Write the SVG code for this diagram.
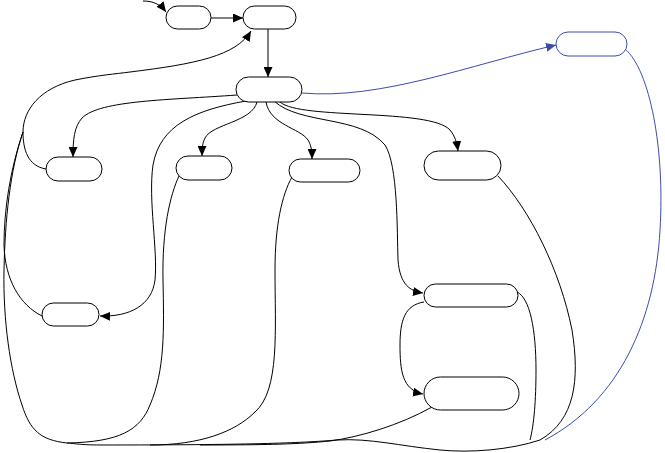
<svg xmlns="http://www.w3.org/2000/svg" width="665" height="453" viewBox="0 0 665 453">
<style>
.n{fill:#fff;stroke:#000;stroke-width:1}
.nb{fill:#fff;stroke:#3b4cad;stroke-width:1}
.e{fill:none;stroke:#000;stroke-width:1}
.eb{fill:none;stroke:#3b4cad;stroke-width:1}
</style>
<defs>
<marker id="ah" markerUnits="userSpaceOnUse" markerWidth="11" markerHeight="9" refX="10" refY="4.5" orient="auto"><path d="M0,0 L10,4.5 L0,9 z" fill="#000"/></marker>
<marker id="ahb" markerUnits="userSpaceOnUse" markerWidth="11" markerHeight="9" refX="10" refY="4.5" orient="auto"><path d="M0,0 L10,4.5 L0,9 z" fill="#3b4cad"/></marker>
</defs>
<g id="connectors">
<path class="e" d="M143,1 C153,1 160,4 166,12" marker-end="url(#ah)"/>
<path class="e" d="M211,18 L243,18" marker-end="url(#ah)"/>
<path class="e" d="M268,29 L268,77" marker-end="url(#ah)"/>
<path class="eb" d="M302,93 C380,100 470,65 556,45" marker-end="url(#ahb)"/>
<path class="e" d="M237,95 C170,100 100,100 82,118 C74,127 73,140 73,157" marker-end="url(#ah)"/>
<path class="e" d="M246,101 C195,110 160,125 153,165 C148,200 158,250 155,280 C152,305 130,317 100,316" marker-end="url(#ah)"/>
<path class="e" d="M257,102 C252,122 212,124 205,138 C202,144 202,150 202,156" marker-end="url(#ah)"/>
<path class="e" d="M266,102 C270,125 300,128 308,140 C311,145 312,150 312,159" marker-end="url(#ah)"/>
<path class="e" d="M280,102 C300,120 430,108 450,130 C455,136 457,143 458,151" marker-end="url(#ah)"/>
<path class="e" d="M274,101 C300,125 360,115 385,145 C398,165 397,230 398,260 C400,285 410,291 423,293" marker-end="url(#ah)"/>
<path class="e" d="M424,302 C405,305 400,320 400,345 C400,370 402,390 423,394" marker-end="url(#ah)"/>
<path class="e" d="M46,169 C28,166 23,150 23,132 C23,110 40,88 75,80 C100,75 115,74 130,72 C195,64 236,56 251,31" marker-end="url(#ah)"/>
<path class="e" d="M42,316 C20,305 5,280 4,245 C4,210 10,170 23,132"/>
<path class="e" d="M67,443 C40,440 30,430 22,405 C10,370 3,320 4,270 C5,220 10,170 23,132"/>
<path class="e" d="M179,176 C170,195 162,230 163,280 C164,330 165,370 150,405 C140,430 120,442 67,443"/>
<path class="e" d="M292,177 C282,195 275,225 275,270 C275,330 280,390 255,412 C235,432 200,445 150,445"/>
<path class="e" d="M432,407 C400,425 360,437 330,441 C300,444 270,445 200,445"/>
<path class="e" d="M540,440 C510,450 470,453 440,450 C400,446 370,438 337,440 C300,443 250,445 100,445 C80,445 70,443 67,443"/>
<path class="e" d="M498,176 C530,210 560,270 572,330 C580,380 575,420 540,440"/>
<path class="e" d="M517,292 C530,298 536,330 536,370 C536,400 534,425 530,440"/>
<path class="eb" d="M625,49 C650,70 665,150 660,230 C655,320 620,400 545,440"/>
</g>
<g id="nA"><rect class="n" x="166" y="6" width="45" height="23" rx="11.5"/></g>
<g id="nB"><rect class="n" x="243" y="6" width="53" height="23" rx="11.5"/></g>
<g id="nC"><rect class="n" x="236" y="77" width="66" height="25" rx="12.5"/></g>
<g id="nD"><rect class="nb" x="556" y="32" width="71" height="24" rx="12"/></g>
<g id="nE"><rect class="n" x="46" y="157" width="56" height="24" rx="12"/></g>
<g id="nF"><rect class="n" x="176" y="156" width="56" height="24" rx="12"/></g>
<g id="nG"><rect class="n" x="289" y="159" width="71" height="23" rx="11.5"/></g>
<g id="nH"><rect class="n" x="424" y="151" width="77" height="29" rx="14.5"/></g>
<g id="nI"><rect class="n" x="42" y="303" width="57" height="23" rx="11.5"/></g>
<g id="nJ"><rect class="n" x="424" y="284" width="94" height="23" rx="11.5"/></g>
<g id="nK"><rect class="n" x="424" y="377" width="95" height="33" rx="16.5"/></g>
</svg>
